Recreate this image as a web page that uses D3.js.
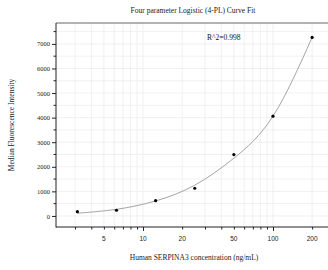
<!DOCTYPE html>
<html>
<head>
<meta charset="utf-8">
<script src="https://cdn.jsdelivr.net/npm/d3@7"></script>
<style>
  body { margin: 0; background: #fff; }
  svg { display: block; font-family: "Liberation Serif", "DejaVu Serif", serif; }
</style>
</head>
<body>
<svg id="chart" width="328" height="270"></svg>
<script>
// measured standards
const concentrations = [3.125, 6.25, 12.5, 25, 50, 100, 200];
const mfiValues = [175, 232, 623, 1127, 2495, 4058, 7265];

// fitted 4-PL curve at the standard concentrations
const curveConc = [3.125, 6.25, 12.5, 25, 50, 100, 200];
const curveMfi = [110, 270, 610, 1250, 2350, 4060, 7265];

const xTickLabels = [5, 10, 20, 50, 100, 200];
const xMinorTicks = [3, 4, 5, 6, 7, 8, 9, 10, 20, 30, 40, 50, 60, 70, 80, 90, 100, 200];
const yTickLabels = [0, 1000, 2000, 3000, 4000, 5000, 6000, 7000];
const yMinorTicks = [500, 1500, 2500, 3500, 4500, 5500, 6500, 7500];

const svg = d3.select("#chart");
const plotL = 56, plotT = 23, plotR = 328, plotB = 227;

const x = d3.scaleLog().domain([2.14, 265]).range([plotL, plotR]);
const y = d3.scaleLinear().domain([-450, 7850]).range([plotB, plotT]);

// grid
const grid = svg.append("g").attr("stroke", "#ececec").attr("stroke-width", 0.8);
grid.selectAll("line.v").data(xMinorTicks).join("line")
    .attr("x1", d => x(d)).attr("x2", d => x(d))
    .attr("y1", plotT).attr("y2", plotB);
grid.selectAll("line.h").data(yTickLabels.concat(yMinorTicks)).join("line")
    .attr("x1", plotL).attr("x2", plotR)
    .attr("y1", d => y(d)).attr("y2", d => y(d));

// top frame line
svg.append("line")
    .attr("x1", plotL).attr("x2", plotR).attr("y1", plotT).attr("y2", plotT)
    .attr("stroke", "#666").attr("stroke-width", 1.2);

// curve
const line = d3.line()
    .x((d, i) => x(curveConc[i]))
    .y(d => y(d))
    .curve(d3.curveNatural);
svg.append("path")
    .attr("d", line(curveMfi))
    .attr("fill", "none")
    .attr("stroke", "#9a9a9a")
    .attr("stroke-width", 0.9);

// points
svg.selectAll("circle.pt").data(mfiValues).join("circle")
    .attr("cx", (d, i) => x(concentrations[i]))
    .attr("cy", d => y(d))
    .attr("r", 1.6)
    .attr("fill", "#000");

// x axis
const xAxis = svg.append("g").attr("transform", `translate(0,${plotB})`);
xAxis.call(d3.axisBottom(x).tickValues(xMinorTicks).tickSize(2.5).tickFormat(""));
xAxis.select(".domain").remove();
xAxis.selectAll(".tick line").attr("stroke", "#222")
    .filter(d => d === 10 || d === 100).attr("y2", 4);
xAxis.append("line").attr("x1", plotL).attr("x2", plotR).attr("stroke", "#222").attr("stroke-width", 1);
xAxis.selectAll(".lbl").data(xTickLabels).join("text")
    .attr("x", d => x(d)).attr("y", 14)
    .attr("text-anchor", "middle")
    .attr("font-size", 6.5).attr("fill", "#222")
    .text(d => d);

// y axis
const yAxis = svg.append("g").attr("transform", `translate(${plotL},0)`);
yAxis.call(d3.axisLeft(y).tickValues(yTickLabels).tickFormat(d3.format("d")).tickSize(4).tickPadding(2));
yAxis.select(".domain").remove();
yAxis.selectAll(".tick text").attr("font-size", 6.5).attr("font-family", "Liberation Serif").attr("fill", "#222");
yAxis.selectAll(".tick line").attr("stroke", "#222");
yAxis.selectAll(".mn").data(yMinorTicks).join("line")
    .attr("x1", -2.5).attr("x2", 0)
    .attr("y1", d => y(d)).attr("y2", d => y(d))
    .attr("stroke", "#222");
yAxis.append("line").attr("y1", plotT).attr("y2", plotB + 0.5).attr("stroke", "#222").attr("stroke-width", 1);

// titles
svg.append("text")
    .attr("x", 193).attr("y", 13)
    .attr("text-anchor", "middle").attr("font-size", 7.5).attr("fill", "#222")
    .text("Four parameter Logistic (4-PL) Curve Fit");
svg.append("text")
    .attr("x", 194).attr("y", 260)
    .attr("text-anchor", "middle").attr("font-size", 7.5).attr("fill", "#222")
    .text("Human SERPINA3 concentration (ng/mL)");
svg.append("text")
    .attr("transform", "translate(14,125) rotate(-90)")
    .attr("text-anchor", "middle").attr("font-size", 7.5).attr("fill", "#222")
    .text("Median Fluorescence Intensity");
svg.append("text")
    .attr("x", 207).attr("y", 40)
    .attr("font-size", 7.5).attr("fill", "#111")
    .text("R^2=0.998");
</script>
</body>
</html>
